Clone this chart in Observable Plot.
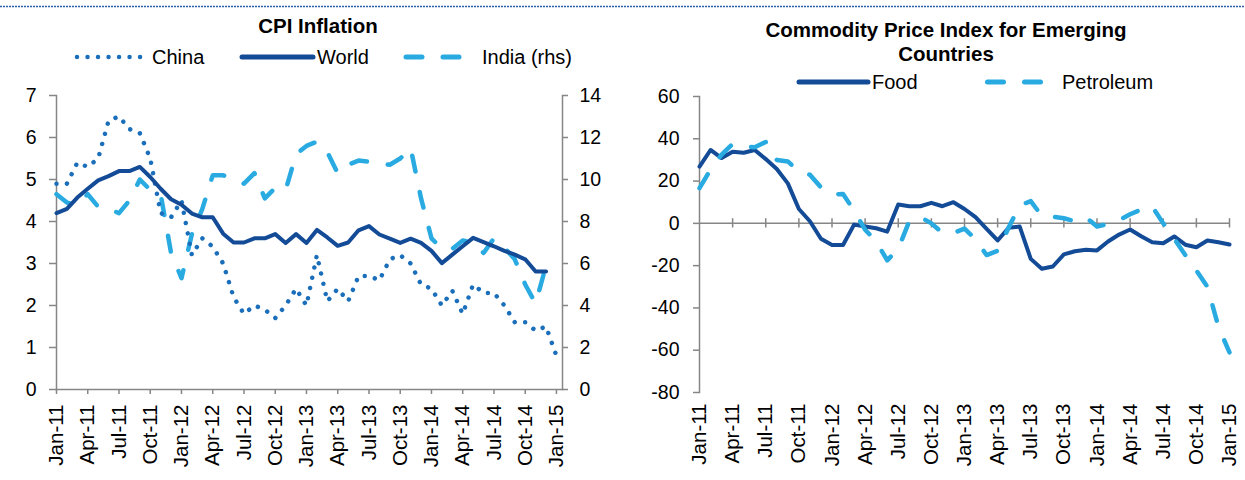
<!DOCTYPE html>
<html><head><meta charset="utf-8">
<script src="https://cdn.jsdelivr.net/npm/d3@7"></script>
<script src="https://cdn.jsdelivr.net/npm/@observablehq/plot@0.6"></script>
<style>
body{margin:0;background:#fff;}
#root{position:relative;width:1245px;height:480px;overflow:hidden;background:#fff;font-family:"Liberation Sans",Arial,sans-serif;}
#root svg{position:absolute;}
</style></head><body><div id="root"></div>
<script>
// ---- data (month index 0 = Jan-11 ... 48 = Jan-15) ----
const tickLabels = ["Jan-11","Apr-11","Jul-11","Oct-11","Jan-12","Apr-12","Jul-12","Oct-12","Jan-13","Apr-13","Jul-13","Oct-13","Jan-14","Apr-14","Jul-14","Oct-14","Jan-15"];
const china = [4.9,4.9,5.4,5.3,5.5,6.4,6.5,6.2,6.1,5.5,4.2,4.1,
  4.5,3.2,3.6,3.4,3.0,2.2,1.8,2.0,1.9,1.7,2.0,2.4,
  2.0,3.2,2.1,2.4,2.1,2.7,2.7,2.6,3.1,3.2,3.0,2.5,
  2.4,2.0,2.35,1.8,2.5,2.3,2.3,2.0,1.6,1.6,1.4,1.5,
  0.8];
const world = [4.2,4.3,4.57,4.78,4.98,5.08,5.2,5.2,5.3,5.06,4.78,4.53,
  4.4,4.19,4.1,4.1,3.71,3.5,3.5,3.6,3.6,3.7,3.49,3.7,
  3.49,3.8,3.62,3.42,3.5,3.79,3.89,3.69,3.59,3.49,3.59,3.49,
  3.3,3.01,3.21,3.41,3.61,3.51,3.41,3.3,3.21,3.1,2.81,2.81,
  null];
const indiaRhs = [9.3,8.9,8.8,9.3,8.7,8.6,8.4,9.0,10.0,9.5,9.3,6.5,
  5.3,7.4,8.6,10.2,10.2,10.0,9.8,10.3,9.1,9.6,9.5,11.2,
  11.6,11.8,11.3,10.3,10.7,10.9,10.85,10.75,10.7,11.0,11.5,9.1,
  7.2,6.7,6.7,7.1,7.0,6.5,7.2,6.75,6.2,5.0,4.1,5.9,
  null];
const food = [26.8,34.7,30.9,33.9,33.4,34.7,30.4,25.7,18.9,6.8,1.0,-7.3,
  -10.2,-10.2,-0.6,-1.5,-2.3,-3.9,8.9,8.1,8.1,9.7,8.1,10.0,
  6.8,2.9,-2.6,-8.1,-2.1,-1.5,-16.8,-21.5,-20.4,-14.7,-13.2,-12.5,
  -12.8,-8.6,-5.3,-2.9,-6.1,-8.9,-9.4,-6.2,-10.1,-11.3,-8.1,-8.9,
  -10.0];
const petroleum = [16.7,25.5,32.5,37.5,36.5,36,38.5,30,29.3,24.5,23,17,
  13.6,13.9,6,-3,-8.5,-17.5,-12,1,3,0,-4.5,-4.5,
  -2.5,-7.5,-15,-13,-2,8.5,10.5,3.5,3.2,2.4,1,2.8,
  -1.5,-0.3,1.5,4.3,6.5,8,0,-7.3,-15,-22.3,-30,-49,-61];
const leftTicks = [0,1,2,3,4,5,6,7];
const rhsTicks = [0,2,4,6,8,10,12,14];
const rightTicks = [-80,-60,-40,-20,0,20,40,60];

// ---- derived tables ----
const rhsRatio = 14 / 7;
const months = d3.range(china.length);
const tickIdx = tickLabels.map((_, k) => k * 3);
const qLabel = i => tickLabels[Math.round(i / 3)];
const plain = v => String(Math.round(v));
const cpi = months.map(i => ({i, china: china[i], world: world[i], india: indiaRhs[i]}));
const comm = months.map(i => ({i, food: food[i], petroleum: petroleum[i]}));

const DARK = "#134b97", MID = "#1b6fba", LIGHT = "#29abe2", GRAY = "#868686";
const FONT = "'Liberation Sans', Arial, sans-serif";

const left = Plot.plot({
  width: 620, height: 480,
  marginLeft: 56, marginRight: 58, marginTop: 95, marginBottom: 91,
  style: {fontFamily: FONT, fontSize: "19.5px", color: "#000", background: "transparent", overflow: "visible"},
  x: {domain: [0, 48.58]},
  y: {domain: [0, 7]},
  marks: [
    Plot.frame({anchor: "left", stroke: GRAY, strokeWidth: 1.5}),
    Plot.frame({anchor: "right", stroke: GRAY, strokeWidth: 1.5}),
    Plot.frame({anchor: "bottom", stroke: GRAY, strokeWidth: 1.5}),
    Plot.axisY({ticks: leftTicks, tickFormat: plain, tickSize: 7, tickPadding: 13, stroke: GRAY, strokeWidth: 1.5, fill: "#000", label: null}),
    Plot.axisY({anchor: "right", ticks: rhsTicks.map(v => v / rhsRatio), tickFormat: v => plain(v * rhsRatio), tickSize: 5, tickPadding: 12, stroke: GRAY, strokeWidth: 1.5, fill: "#000", label: null}),
    Plot.axisX({ticks: tickIdx, tickFormat: qLabel, tickRotate: -90, textAnchor: "end", lineAnchor: "middle", fontSize: "20.5px", tickSize: 5, tickPadding: 10, stroke: GRAY, strokeWidth: 1.5, fill: "#000", label: null}),
    Plot.line(cpi, {x: "i", y: d => d.india == null ? NaN : d.india / rhsRatio, stroke: LIGHT, strokeWidth: 4.5, strokeDasharray: "16 21", strokeLinecap: "round", strokeLinejoin: "round"}),
    Plot.line(cpi, {x: "i", y: "china", stroke: MID, strokeWidth: 4.5, strokeDasharray: "0.01 10.5", strokeLinecap: "round"}),
    Plot.line(cpi, {x: "i", y: d => d.world == null ? NaN : d.world, stroke: DARK, strokeWidth: 4, strokeLinejoin: "round"})
  ]
});
left.style.left = "0px"; left.style.top = "0px";

const right = Plot.plot({
  width: 620, height: 480,
  marginLeft: 74, marginRight: 16, marginTop: 96, marginBottom: 88,
  style: {fontFamily: FONT, fontSize: "19.5px", color: "#000", background: "transparent", overflow: "visible"},
  x: {domain: [0, 48]},
  y: {domain: [-80, 60]},
  marks: [
    Plot.frame({anchor: "left", stroke: GRAY, strokeWidth: 1.5}),
    Plot.ruleY([0], {stroke: GRAY, strokeWidth: 1.5}),
    Plot.ruleX(tickIdx.slice(1), {y1: -2.2, y2: 2.2, stroke: GRAY, strokeWidth: 1.5}),
    Plot.axisY({ticks: rightTicks, tickFormat: plain, tickSize: 6, tickPadding: 14, stroke: GRAY, strokeWidth: 1.5, fill: "#000", label: null}),
    Plot.axisX({ticks: tickIdx, tickFormat: qLabel, tickRotate: -90, textAnchor: "end", lineAnchor: "middle", fontSize: "20.5px", tickSize: 0, tickPadding: 11, fill: "#000", label: null}),
    Plot.line(comm, {x: "i", y: "food", stroke: DARK, strokeWidth: 4, strokeLinejoin: "round"}),
    Plot.line(comm, {x: "i", y: "petroleum", stroke: LIGHT, strokeWidth: 4.5, strokeDasharray: "16 21", strokeLinecap: "round", strokeLinejoin: "round"})
  ]
});
right.style.left = "625px"; right.style.top = "0px";

const root = document.getElementById("root");
root.appendChild(left);
root.appendChild(right);

// ---- titles, legends and top rule (overlay) ----
const ns = "http://www.w3.org/2000/svg";
const ov = document.createElementNS(ns, "svg");
ov.setAttribute("width", 1245); ov.setAttribute("height", 480);
ov.style.left = "0px"; ov.style.top = "0px"; ov.style.pointerEvents = "none";
ov.setAttribute("font-family", FONT);
root.appendChild(ov);
function el(tag, attrs, text) {
  const e = document.createElementNS(ns, tag);
  for (const k in attrs) e.setAttribute(k, attrs[k]);
  if (text != null) e.textContent = text;
  ov.appendChild(e);
  return e;
}
el("line", {x1: 0, x2: 1245, y1: 6.5, y2: 6.5, stroke: "#2f5fa8", "stroke-width": 1.5, "stroke-dasharray": "2 1"});
// left title + legend
el("text", {x: 318, y: 33, "text-anchor": "middle", "font-weight": "bold", "font-size": "20.5px"}, "CPI Inflation");
el("line", {x1: 77, x2: 141, y1: 57, y2: 57, stroke: MID, "stroke-width": 4.5, "stroke-dasharray": "0.01 10.5", "stroke-linecap": "round"});
el("text", {x: 152, y: 64, "font-size": "20px"}, "China");
el("line", {x1: 242, x2: 313, y1: 57, y2: 57, stroke: DARK, "stroke-width": 5, "stroke-linecap": "round"});
el("text", {x: 317, y: 64, "font-size": "20px"}, "World");
el("line", {x1: 406, x2: 459, y1: 57, y2: 57, stroke: LIGHT, "stroke-width": 5, "stroke-dasharray": "16 21", "stroke-linecap": "round"});
el("text", {x: 482, y: 64, "font-size": "20px"}, "India (rhs)");
// right title + legend
el("text", {x: 946, y: 37, "text-anchor": "middle", "font-weight": "bold", "font-size": "20.5px"}, "Commodity Price Index for Emerging");
el("text", {x: 946, y: 61, "text-anchor": "middle", "font-weight": "bold", "font-size": "20.5px"}, "Countries");
el("line", {x1: 799, x2: 868, y1: 82, y2: 82, stroke: DARK, "stroke-width": 5, "stroke-linecap": "round"});
el("text", {x: 872, y: 89, "font-size": "20px"}, "Food");
el("line", {x1: 987.5, x2: 1040.5, y1: 82, y2: 82, stroke: LIGHT, "stroke-width": 5, "stroke-dasharray": "16 21", "stroke-linecap": "round"});
el("text", {x: 1062, y: 89, "font-size": "20px"}, "Petroleum");
</script></body></html>
